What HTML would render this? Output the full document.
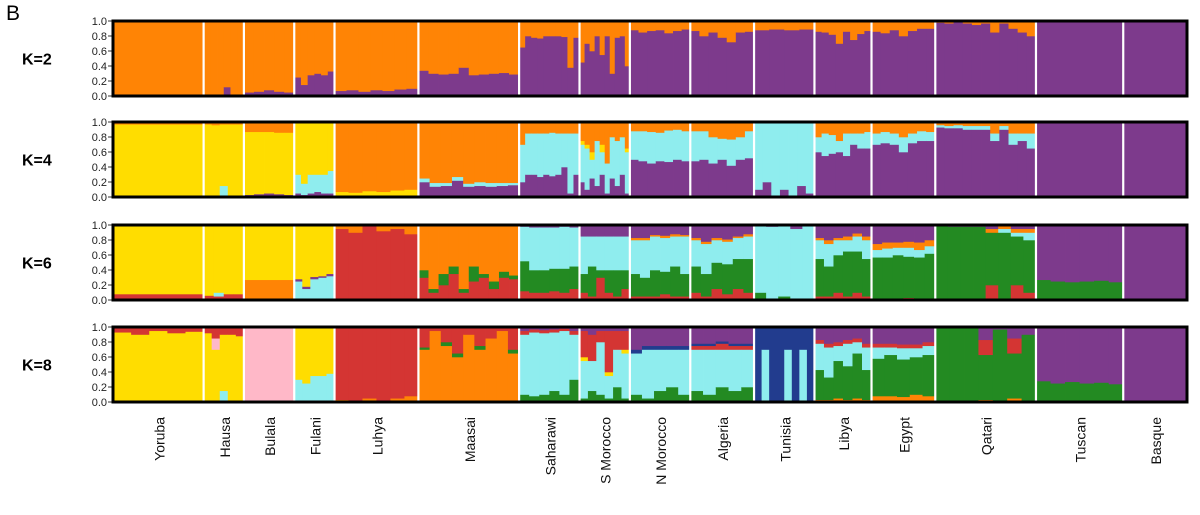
<!DOCTYPE html>
<html><head><meta charset="utf-8"><style>
html,body{margin:0;padding:0;background:#fff;width:1200px;height:515px;overflow:hidden}
svg{display:block}
text{font-family:"Liberation Sans",Arial,sans-serif}
</style></head><body>
<svg id="chart" width="1200" height="515" viewBox="0 0 1200 515"></svg>
<script>
// ---- data ----
const groups = ["Yoruba","Hausa","Bulala","Fulani","Luhya","Maasai","Saharawi","S Morocco","N Morocco","Algeria","Tunisia","Libya","Egypt","Qatari","Tuscan","Basque"];
const sampleCounts = [27,12,15,12,25,30,18,15,18,19,18,17,19,30,26,19];
const kValues = [2,4,6,8];
const tickLabels = ["1.0","0.8","0.6","0.4","0.2","0.0"];
const tickValues = [1,0.8,0.6,0.4,0.2,0];
const colors = {o:"#FF8405",p:"#7D3A8C",y:"#FFDD00",c:"#8FEDEE",r:"#D43533",g:"#238A22",k:"#FFB8C8",n:"#223C8E"};
// each group: [component order bottom->top, individual bars (last component fills remainder)]
const k2 = [
 ["po",[[0]]],["po",[[0],[0],[0],[0.12],[0],[0]]],["po",[[.05],[.06],[.08],[.06],[.05]]],
 ["po",[[.25],[.15],[.28],[.3],[.28],[.33]]],["po",[[.07],[.08],[.06],[.08],[.07],[.09],[.1]]],
 ["po",[[.34],[.3],[.29],[.3],[.38],[.28],[.29],[.3],[.31],[.29]]],
 ["po",[[.65],[.8],[.78],[.77],[.8],[.8],[.8],[.79],[.38],[.78]]],
 ["po",[[.45],[.7],[.6],[.8],[.55],[.8],[.3],[.78],[.8],[.4]]],
 ["po",[[.88],[.85],[.87],[.88],[.84],[.87],[.89]]],["po",[[.87],[.8],[.85],[.78],[.72],[.85],[.86]]],
 ["po",[[.88],[.89],[.88],[.89]]],["po",[[.86],[.85],[.82],[.7],[.86],[.75],[.83],[.87]]],
 ["po",[[.86],[.84],[.88],[.8],[.87],[.9],[.9]]],
 ["po",[[.98],[.97],[1],[.97],[.95],[.97],[.85],[.97],[.9],[.85],[.8]]],["p",[[]]],["p",[[]]]
];
const k4 = [
 ["yo",[[.97]]],["cyo",[[0,.97],[0,.96],[.15,.82],[0,.97],[0,.97]]],
 ["pyo",[[.03,.84],[.04,.83],[.05,.82],[.04,.82],[.03,.83]]],
 ["pcy",[[.05,.25],[.03,.15],[.05,.25],[.07,.23],[.05,.25],[.05,.3]]],
 ["yo",[[.07],[.06],[.08],[.07],[.09],[.1]]],
 ["pco",[[.2,.05],[.14,.05],[.15,.04],[.22,.05],[.14,.04],[.15,.05],[.14,.05],[.15,.04],[.16,.03]]],
 ["pco",[[.2,.5],[.3,.55],[.3,.55],[.27,.58],[.3,.55],[.28,.58],[.3,.55],[.4,.45],[.05,.8],[.3,.55]]],
 ["pcyo",[[.2,.5,.05],[.1,.55,.05],[.25,.25,.1],[.15,.6,0],[.3,.3,.1],[.05,.4,0],[.25,.55,0],[.15,.6,0],[.3,.5,0],[.05,.55,.05]]],
 ["pco",[[.5,.38],[.48,.4],[.45,.42],[.48,.38],[.47,.42],[.5,.4],[.48,.4]]],
 ["pco",[[.48,.4],[.5,.38],[.45,.35],[.5,.28],[.42,.35],[.5,.3],[.52,.36]]],
 ["pc",[[.1],[.2],[0],[.1],[0],[.15],[.05]]],
 ["pco",[[.6,.2],[.55,.3],[.58,.25],[.6,.15],[.55,.3],[.7,.15],[.65,.2],[.65,.22]]],
 ["pco",[[.7,.15],[.72,.15],[.7,.15],[.6,.2],[.72,.13],[.75,.13],[.75,.12]]],
 ["pco",[[.93,.03],[.92,.03],[.92,.04],[.9,.05],[.9,.05],[.9,.05],[.75,.1],[.9,.05],[.7,.15],[.75,.1],[.65,.2]]],
 ["p",[[]]],["p",[[]]]
];
const k6 = [
 ["ry",[[.08]]],["rcy",[[.06,0],[.05,.05],[.08,0],[.08,0]]],["oy",[[.27]]],
 ["cpy",[[.25,.03],[.15,.03],[.28,.03],[.3,.02],[.32,.03]]],
 ["ro",[[.95],[.9],[1],[.92],[.95],[.88]]],
 ["rgo",[[.3,.1],[.1,.05],[.2,.15],[.35,.1],[.1,.05],[.25,.2],[.3,.05],[.15,.1],[.3,.08],[.28,.05]]],
 ["rgcp",[[.12,.4,.46],[.1,.3,.57],[.1,.3,.57],[.12,.3,.55],[.1,.32,.56],[.15,.3,.52]]],
 ["rgcp",[[.1,.25,.5],[.05,.4,.4],[.3,.1,.45],[.1,.3,.45],[.05,.35,.45],[.15,.25,.45]]],
 ["rgcop",[[.05,.3,.45,.03],[.05,.25,.5,.03],[.05,.35,.45,.02],[.08,.3,.45,.03],[.05,.4,.4,.03],[.05,.3,.5,.02]]],
 ["rgcop",[[.1,.35,.35,.03],[.05,.3,.4,.03],[.15,.35,.3,.03],[.08,.4,.3,.03],[.15,.4,.28,.02],[.1,.45,.3,.03]]],
 ["gcp",[[.1,.9],[0,.98],[.05,.95],[0,.95],[0,1]]],
 ["rgcop",[[.05,.5,.25,.03],[.05,.4,.3,.05],[.1,.5,.2,.03],[.05,.6,.15,.05],[.1,.55,.2,.04],[.05,.5,.25,.05]]],
 ["rgcop",[[.02,.55,.1,.08],[.02,.55,.12,.08],[.02,.58,.1,.07],[.03,.55,.12,.08],[.02,.55,.1,.1],[.02,.6,.1,.08]]],
 ["rgcop",[[0,1,0,0],[0,.98,0,0],[0,.98,0,0],[0,.98,0,0],[.2,.7,0,.05],[0,.9,.05,.05],[.2,.65,.05,.05],[.1,.7,.1,.05]]],
 ["gp",[[.27],[.25],[.24],[.25],[.26],[.24]]],["p",[[]]]
];
const k8 = [
 ["yr",[[.93],[.9],[.95],[.92],[.94]]],
 ["cykr",[[0,.92,0],[0,.7,.15],[.15,.75,0],[0,.9,0],[0,.88,0]]],
 ["k",[[]]],["cy",[[.3],[.25],[.35],[.35],[.38]]],
 ["or",[[.03],[0],[.05],[0],[.05],[.08]]],
 ["ogr",[[.7,.03],[.95,0],[.75,.05],[.6,.05],[.9,0],[.7,.05],[.85,0],[.95,0],[.65,.05]]],
 ["gcrp",[[.1,.8,.05],[.08,.85,.04],[.1,.82,.04],[.15,.78,.04],[.1,.85,.03],[.3,.6,.05]]],
 ["gcyrp",[[.05,.5,.05,.35],[.15,.4,0,.35],[.1,.7,0,.15],[.05,.3,.05,.55],[.2,.5,0,.25],[.05,.6,.05,.25]]],
 ["gcnp",[[.1,.55,.05],[.05,.65,.05],[.15,.55,.05],[.2,.5,.05],[.1,.6,.05]]],
 ["gcrnp",[[.15,.55,.05,.03],[.1,.6,.05,.03],[.2,.5,.08,.03],[.15,.55,.05,.03],[.2,.5,.05,.03]]],
 ["cn",[[0],[.7],[0],[0],[.7],[0],[.7],[0]]],
 ["ogcrp",[[.03,.4,.35,.05],[.03,.3,.4,.05],[.05,.5,.2,.05],[.03,.45,.3,.05],[.05,.6,.15,.05],[.03,.4,.3,.05]]],
 ["ogcrp",[[.08,.5,.15,.05],[.08,.55,.1,.05],[.07,.5,.15,.05],[.1,.5,.12,.05],[.08,.55,.12,.05]]],
 ["ogrp",[[0,1,0],[0,.99,0],[0,1,0],[.03,.6,.2],[0,.97,0],[.05,.6,.2],[0,.9,0]]],
 ["gp",[[.28],[.25],[.27],[.25],[.26],[.24]]],["p",[[]]]
];
const panels = [k2,k4,k6,k8];

// ---- layout ----
const NS="http://www.w3.org/2000/svg";
const svg=document.getElementById('chart');
const X0=113, X1=1187, rowTops=[21,122,225,327], H=75;
const total=sampleCounts.reduce((a,b)=>a+b,0);
const xs=[X0]; sampleCounts.forEach(c=>xs.push(xs[xs.length-1]+c/total*(X1-X0)));
function mk(tag,attrs,parent){const e=document.createElementNS(NS,tag);for(const k in attrs)e.setAttribute(k,attrs[k]);(parent||svg).appendChild(e);return e;}

const bLbl=mk('text',{x:6,y:20,'font-size':21});
bLbl.textContent='B';



panels.forEach((panel,pi)=>{
  const top=rowTops[pi];
  const yScale=v=>top+H-v*H;
  const g=mk('g',{});
  
  
  const kl=mk('text',{x:22,y:top+H/2+6,'font-size':16,'font-weight':'bold'},g);
  kl.textContent='K='+kValues[pi];
  
  
  tickValues.forEach((tv,ti)=>{
    const t=mk('text',{x:107,y:yScale(tv)+4,'font-size':11,'text-anchor':'end',fill:'#222'},g);
    t.textContent=tickLabels[ti];
    
    
    mk('line',{x1:108,x2:113,y1:yScale(tv),y2:yScale(tv),stroke:'#333','stroke-width':1},g);
  });
  panel.forEach((grp,gi)=>{
    const order=grp[0], bars=grp[1];
    const gx0=xs[gi], gw=xs[gi+1]-xs[gi], bw=gw/bars.length;
    bars.forEach((vals,bi)=>{
      let cum=0;
      for(let ci=0;ci<order.length;ci++){
        const v = ci<order.length-1 ? (vals[ci]||0) : Math.max(0,1-cum);
        if(v>0){
          const r=mk('rect',{x:gx0+bi*bw,width:bw+0.4,y:yScale(Math.min(1,cum+v)),height:Math.min(1,cum+v)*H-cum*H+0.3,fill:colors[order[ci]]},g);
          
          
        }
        cum+=v;
      }
    });
  });
  for(let gi=1;gi<groups.length;gi++){
    const s=mk('line',{x1:xs[gi],x2:xs[gi],y1:top,y2:top+H,stroke:'#fff','stroke-width':2.2},g);
    
    
  }
  const fr=mk('rect',{x:X0,y:top,width:X1-X0,height:H,fill:'none',stroke:'#000','stroke-width':3},g);
  
  
});

groups.forEach((name,gi)=>{
  const cx=(xs[gi]+xs[gi+1])/2;
  const t=mk('text',{x:0,y:0,'font-size':14,'text-anchor':'end',transform:`translate(${cx+6},417) rotate(-90)`,fill:'#111'});
  t.textContent=name;
  
  
});
</script>
</body></html>
